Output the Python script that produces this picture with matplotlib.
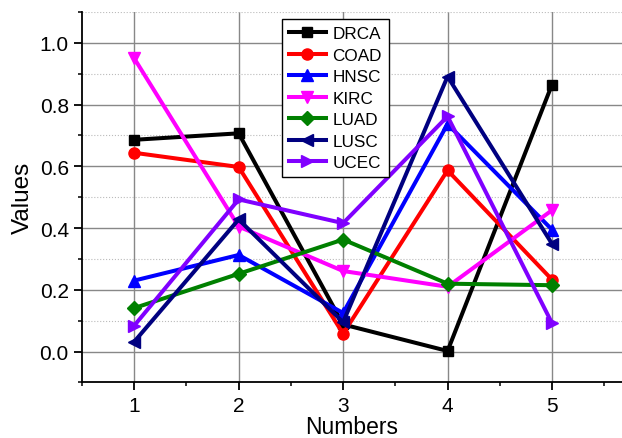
import matplotlib
matplotlib.use("Agg")
import matplotlib.pyplot as plt
from matplotlib.ticker import MultipleLocator

plt.rcParams['font.family'] = ['Liberation Sans', 'DejaVu Sans']

x = [1, 2, 3, 4, 5]
DRCA = [0.686, 0.707, 0.088, 0.002, 0.865]
COAD = [0.644, 0.598, 0.058, 0.587, 0.233]
HNSC = [0.230, 0.313, 0.125, 0.737, 0.395]
KIRC = [0.950, 0.405, 0.261, 0.210, 0.458]
LUAD = [0.141, 0.252, 0.363, 0.220, 0.215]
LUSC = [0.032, 0.428, 0.095, 0.891, 0.349]
UCEC = [0.084, 0.493, 0.416, 0.762, 0.092]

series = [
    ("DRCA", DRCA, "black", "s"),
    ("COAD", COAD, "red", "o"),
    ("HNSC", HNSC, "blue", "^"),
    ("KIRC", KIRC, "magenta", "v"),
    ("LUAD", LUAD, "#008000", "D"),
    ("LUSC", LUSC, "#000080", "<"),
    ("UCEC", UCEC, "#8000FF", ">"),
]

fig = plt.figure(figsize=(6.22, 4.39), dpi=100)
ax = fig.add_axes([0.1318, 0.1265, 0.8682, 0.8439])

for name, vals, col, mk in series:
    ms = {"s": 7.5, "o": 8, "D": 7, }.get(mk, 9)
    ax.plot(x, vals, color=col, marker=mk, lw=2.9, ms=ms, label=name)

ax.set_xlim(0.5, 5.67)
ax.set_ylim(-0.1, 1.1)
ax.xaxis.set_major_locator(MultipleLocator(1))
ax.xaxis.set_minor_locator(MultipleLocator(0.5))
ax.yaxis.set_major_locator(MultipleLocator(0.2))
ax.yaxis.set_minor_locator(MultipleLocator(0.1))
ax.yaxis.set_major_formatter(matplotlib.ticker.FormatStrFormatter('%.1f'))

ax.set_axisbelow(True)
ax.grid(which='major', color='#888888', lw=1.0, ls='-')
ax.grid(which='minor', axis='y', color='#bbbbbb', lw=0.8, ls=':')

for s in ['top', 'right']:
    ax.spines[s].set_visible(False)
ax.spines['left'].set_linewidth(1.3)
ax.spines['bottom'].set_linewidth(1.3)
ax.tick_params(which='major', direction='out', length=5.5, width=1.3, labelsize=15, pad=4)
ax.tick_params(which='minor', direction='out', length=3, width=1.1)

ax.set_xlabel("Numbers", fontsize=16.5, labelpad=0)
ax.set_ylabel("Values", fontsize=17.5, labelpad=4)

leg = ax.legend(loc='upper left', bbox_to_anchor=(0.370, 0.980), fontsize=12.3,
                frameon=True, fancybox=False, edgecolor='black', framealpha=1,
                handlelength=2.2, borderpad=0.4, labelspacing=0.38, handletextpad=0.35,
                borderaxespad=0)
leg.get_frame().set_linewidth(1.0)

fig.savefig("out.png", dpi=100)
